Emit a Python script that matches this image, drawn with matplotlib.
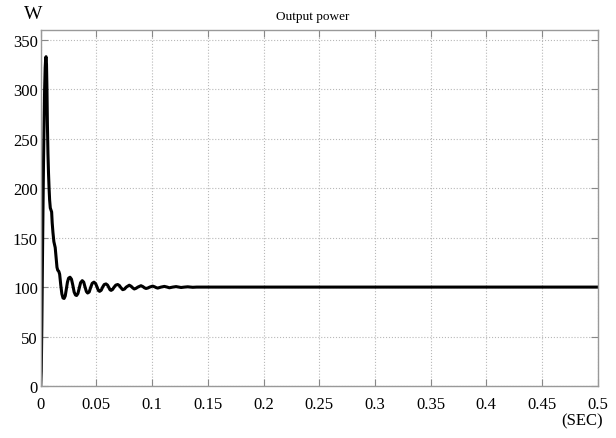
import matplotlib.pyplot as plt

# time in ms, power in W
t_ms = [0, 0.5, 1.0, 1.5, 2.0, 2.5, 3.0, 3.5, 4.0, 4.5, 4.8, 5.2, 5.6, 6.0, 6.5,
        7.0, 7.5, 8.0, 8.6, 9.2, 9.8, 10.3, 11.0, 11.8, 12.4, 13.0, 13.8, 14.6,
        15.3, 16.2, 17.0, 18.0, 19.0, 20.0, 21.0, 22.0, 23.0, 24.0, 25.0, 26.3,
        27.6, 28.8, 30.0, 31.2, 32.2, 33.4, 34.6, 35.8, 37.3, 38.6, 39.8, 41.0,
        42.1, 43.5, 44.8, 46.2, 47.8, 49.3, 50.6, 51.8, 52.9, 54.3, 55.6, 57.0,
        58.6, 60.0, 61.2, 62.2, 63.2, 64.5, 65.9, 67.4, 69.1, 70.6, 71.9, 73.6,
        75.2, 76.8, 79.5, 81.2, 82.6, 84.0, 85.6, 87.2, 90.0, 91.7, 93.1, 94.5,
        96.2, 97.8, 100.5, 102.2, 103.6, 105.0, 108.0, 111.0, 113.5, 115.5, 118.5,
        121.5, 124.0, 126.0, 129.0, 132.0, 134.5, 136.5, 140.0, 500.0]
power = [0, 15, 60, 120, 175, 225, 265, 300, 322, 332, 333, 325, 300, 265, 235,
         215, 200, 188, 180, 178, 176, 165, 155, 146, 143, 140, 130, 120,
         117, 116, 113, 102, 93, 89, 88.5, 91, 98, 105, 109, 110,
         108, 102, 95, 92, 91.5, 93.5, 99, 104.5, 106.5, 105, 100, 95.5,
         94, 95, 99.5, 103.8, 105, 103.5, 100, 96.5, 95.7, 96.8, 100, 102.6,
         103.2, 102, 99.5, 97.3, 96.7, 97.6, 100, 102, 102.6, 101.6, 99.5, 97.4,
         98.0, 100, 101.9, 100.8, 99.2, 98.1, 98.8, 100, 101.4, 100.5, 99.3, 98.6,
         99.1, 100, 101.0, 100.3, 99.5, 99.0, 100, 100.7, 100, 99.3, 100,
         100.5, 100, 99.6, 100, 100.3, 100, 99.8, 100, 100]

xticks = [0, 0.05, 0.1, 0.15, 0.2, 0.25, 0.3, 0.35, 0.4, 0.45, 0.5]
yticks = [0, 50, 100, 150, 200, 250, 300, 350]

t = [v / 1000 for v in t_ms]

plt.rcParams['font.family'] = 'Liberation Serif'

fig = plt.figure(figsize=(6.16, 4.39), dpi=100)
ax = fig.add_axes([0.0661, 0.1185, 0.9042, 0.8109])

ax.plot(t, power, color='black', lw=2.2)

ax.set_xlim(0, 0.5)
ax.set_ylim(0, 360)
ax.set_xticks(xticks)
ax.set_xticklabels(['0', '0.05', '0.1', '0.15', '0.2', '0.25', '0.3', '0.35', '0.4', '0.45', '0.5'])
ax.set_yticks(yticks)
ax.grid(True, color='#b8b8b8', linestyle=':', linewidth=0.8)
ax.tick_params(direction='in', length=5, width=0.8, color='#888888',
               top=True, right=True, labelsize=12, pad=2)
ax.tick_params(axis='x', pad=7)
for s in ax.spines.values():
    s.set_color('#999999')
    s.set_linewidth(1.0)

fig.text(0.0536, 0.966, 'W', fontsize=14, ha='center', va='center')
fig.text(0.508, 0.961, 'Output power', fontsize=9.5, ha='center', va='center')
fig.text(0.945, 0.04, '(SEC)', fontsize=12, ha='center', va='center')

fig.savefig('out.png')
